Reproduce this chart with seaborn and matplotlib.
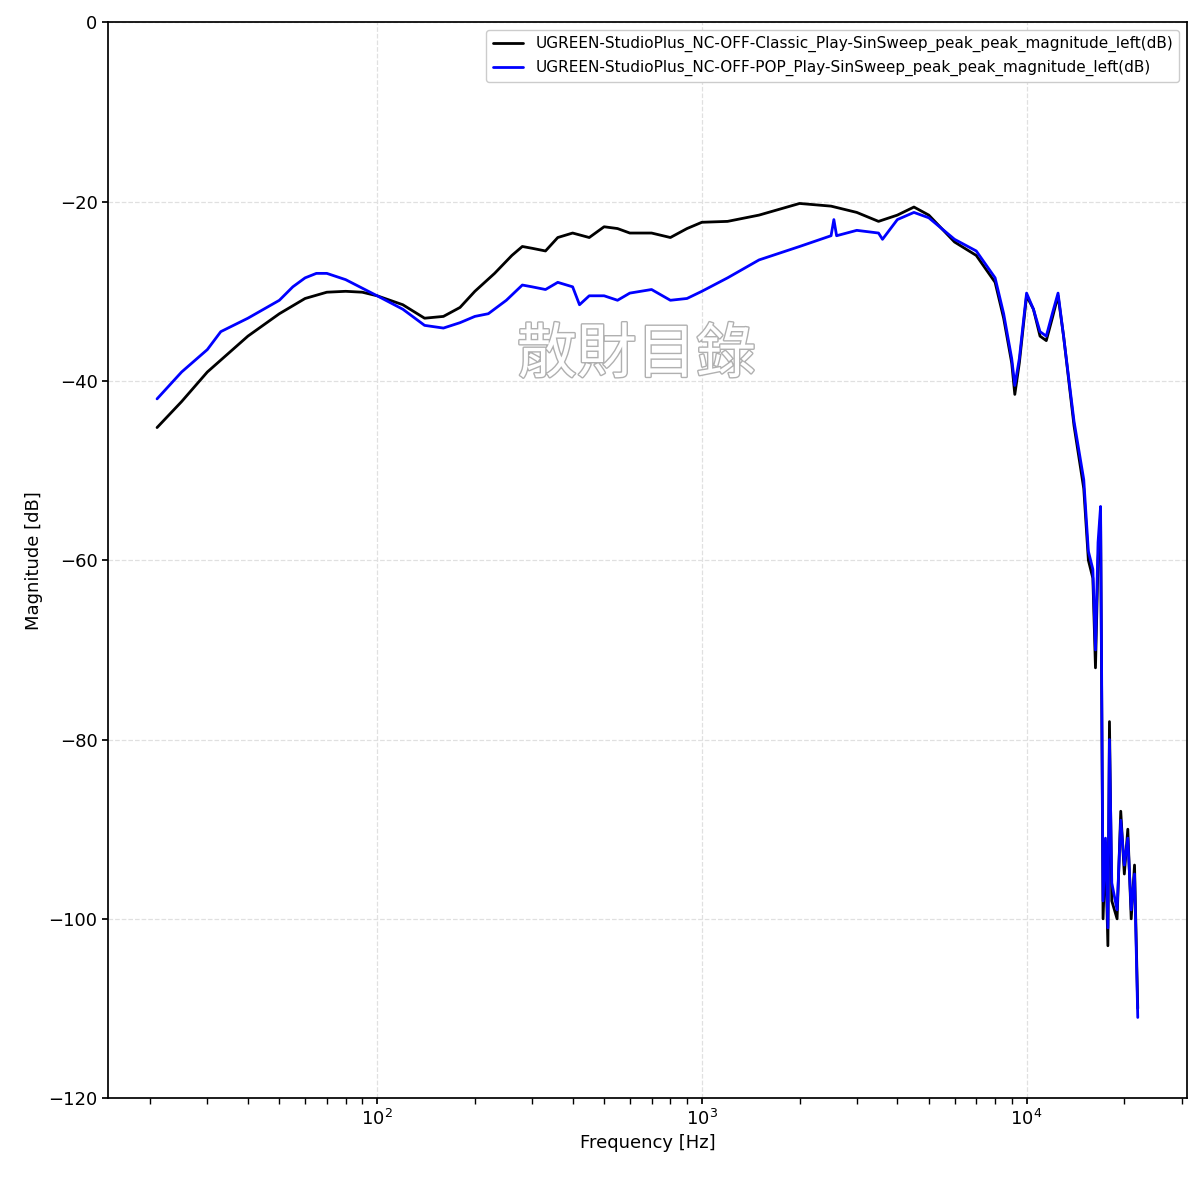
import numpy as np
import pandas as pd
import matplotlib.pyplot as plt
import matplotlib.patheffects as pe
import seaborn as sns

sns.set_theme(style="ticks")
plt.rcParams["font.family"] = ["DejaVu Sans", "Noto Sans CJK TC"]
plt.rcParams["text.color"] = "black"
plt.rcParams["axes.labelcolor"] = "black"
plt.rcParams["xtick.color"] = "black"
plt.rcParams["ytick.color"] = "black"

# Classic curve (frequency Hz, magnitude dB)
classic_f = [21, 25, 30, 40, 50, 60, 70, 80, 90, 100, 120, 140, 160, 180, 200, 230, 260, 280,
             300, 330, 360, 400, 450, 500, 550, 600, 700, 800, 900, 1000, 1200, 1500, 2000,
             2500, 3000, 3500, 4000, 4500, 5000, 6000, 7000, 8000, 8500, 9000, 9200, 9500,
             10000, 10500, 11000, 11500, 12000, 12500, 13000, 14000, 15000, 15500, 16000,
             16300, 16600, 16900, 17200, 17500, 17800, 18000, 18300, 19000, 19500, 20000,
             20500, 21000, 21500, 22000]
classic_db = [-45.2, -42.3, -39, -35, -32.5, -30.8, -30.1, -30, -30.1, -30.5, -31.5, -33,
              -32.8, -31.8, -30, -28, -26, -25, -25.2, -25.5, -24, -23.5, -24, -22.8, -23,
              -23.5, -23.5, -24, -23, -22.3, -22.2, -21.5, -20.2, -20.5, -21.2, -22.2, -21.5,
              -20.6, -21.5, -24.5, -26, -29, -33, -38, -41.5, -38, -30.5, -32, -35, -35.5,
              -33, -30.5, -35, -45, -52, -60, -62, -72, -60, -55, -100, -92, -103, -78, -98,
              -100, -88, -95, -90, -100, -94, -110]

# POP curve
pop_f = [21, 25, 30, 33, 40, 50, 55, 60, 65, 70, 80, 100, 120, 140, 160, 180, 200, 220, 250,
         280, 300, 330, 360, 400, 420, 450, 500, 550, 600, 700, 800, 900, 1000, 1200, 1500,
         2000, 2500, 2550, 2600, 3000, 3500, 3600, 4000, 4500, 5000, 6000, 7000, 8000, 8500,
         9000, 9200, 9500, 10000, 10500, 11000, 11500, 12000, 12500, 13000, 14000, 15000,
         15500, 16000, 16300, 16600, 16900, 17200, 17500, 17800, 18000, 18300, 19000, 19500,
         20000, 20500, 21000, 21500, 22000]
pop_db = [-42, -39, -36.5, -34.5, -33, -31, -29.5, -28.5, -28, -28, -28.7, -30.5, -32, -33.8,
          -34.1, -33.5, -32.8, -32.5, -31, -29.3, -29.5, -29.8, -29, -29.5, -31.5, -30.5,
          -30.5, -31, -30.2, -29.8, -31, -30.8, -30, -28.5, -26.5, -25, -23.8, -22, -23.8,
          -23.2, -23.5, -24.2, -22, -21.2, -21.8, -24.2, -25.5, -28.5, -32.5, -37.5, -40.5,
          -37.5, -30.2, -32, -34.5, -35, -32.5, -30.2, -35, -44.5, -51, -59, -61, -70, -58,
          -54, -98, -91, -101, -80, -96, -99, -89, -94, -91, -99, -95, -111]

classic_label = "UGREEN-StudioPlus_NC-OFF-Classic_Play-SinSweep_peak_peak_magnitude_left(dB)"
pop_label = "UGREEN-StudioPlus_NC-OFF-POP_Play-SinSweep_peak_peak_magnitude_left(dB)"

df = pd.concat([
    pd.DataFrame({"f": classic_f, "db": classic_db, "curve": classic_label}),
    pd.DataFrame({"f": pop_f, "db": pop_db, "curve": pop_label}),
])

fig = plt.figure(figsize=(12, 11.77), dpi=100)
ax = fig.add_axes([0.09, 0.067, 0.899, 0.914])
sns.lineplot(data=df, x="f", y="db", hue="curve", sort=False, estimator=None,
             palette={classic_label: "black", pop_label: "blue"}, linewidth=2, ax=ax)
ax.set_xscale("log")
ax.set_ylim(-120, 0)
ax.set_xlabel("Frequency [Hz]", fontsize=13)
ax.set_ylabel("Magnitude [dB]", fontsize=13)
ax.tick_params(labelsize=13, direction="out", length=4)
ax.grid(True, which="major", linestyle="--", color="#e0e0e0", linewidth=0.9)
for s in ax.spines.values():
    s.set_color("black")
ax.legend(loc="upper right", fontsize=11, title=None, framealpha=1)

ax.text(0.49, 0.69, "散財目錄", transform=ax.transAxes, ha="center", va="center",
        fontsize=43, family=["Noto Sans CJK TC"], color="white",
        path_effects=[pe.withStroke(linewidth=2, foreground="#b0b0b0")])

fig.savefig("out.png")
